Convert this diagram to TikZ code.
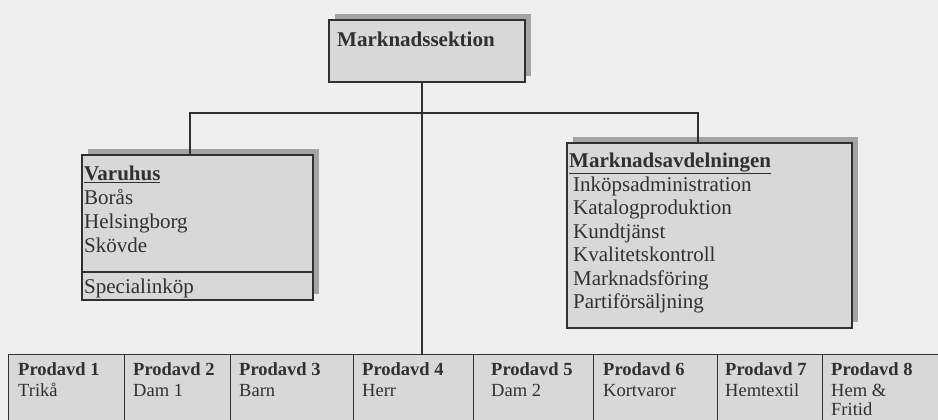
\documentclass[tikz,border=0pt]{standalone}
\usepackage{fontspec}
\setmainfont{Liberation Serif}
\usetikzlibrary{shadows}
\definecolor{bg}{HTML}{EFEFEF}
\definecolor{boxfill}{HTML}{D8D8D8}
\definecolor{shade}{HTML}{A4A4A4}
\definecolor{ink}{HTML}{303030}
\tikzset{
  box/.style={draw=ink, line width=1.5pt, fill=boxfill, rectangle, inner sep=0pt},
  shbox/.style={box, general shadow={fill=shade, shadow xshift=6pt, shadow yshift=6pt}},
  cell/.style={draw=ink, line width=1.2pt, fill=boxfill, rectangle, inner sep=0pt, minimum height=71pt, anchor=north west},
  big/.style={anchor=base west, inner sep=0pt, text=ink, font=\fontsize{21}{24}\selectfont},
  small/.style={anchor=base west, inner sep=0pt, text=ink, font=\fontsize{18.5}{21}\selectfont},
  conn/.style={draw=ink, line width=1.3pt}
}
\begin{document}
\begin{tikzpicture}[x=1pt,y=-1pt]
\clip (0,0) rectangle (938,420);
\fill[bg] (0,0) rectangle (938,420);

% boxes
\node[shbox, minimum width=196pt, minimum height=62pt] (top) at (427,51) {};
\node[shbox, minimum width=231pt, minimum height=145pt] (varuhus) at (197.5,227.5) {};
\node[shbox, minimum width=285pt, minimum height=185pt] (markn) at (709.5,235.5) {};
\coordinate (div) at (0,272);
\draw[conn] (varuhus.west |- div) -- (varuhus.east |- div);

% bottom row
\node[cell, minimum width=116pt] (p1) at (8,354) {};
\node[cell, minimum width=106pt] (p2) at (124,354) {};
\node[cell, minimum width=123pt] (p3) at (230,354) {};
\node[cell, minimum width=120pt] (p4) at (353,354) {};
\node[cell, minimum width=120pt] (p5) at (473,354) {};
\node[cell, minimum width=124pt] (p6) at (593,354) {};
\node[cell, minimum width=105pt] (p7) at (717,354) {};
\node[cell, minimum width=130pt] (p8) at (822,354) {};

% connectors
\coordinate (vx) at (422,0);
\coordinate (lx) at (190,113);
\coordinate (rx) at (698,113);
\draw[conn] (top.south -| vx) -- (p4.north -| vx);
\draw[conn] (varuhus.north -| lx) -- (lx) -- (rx) -- (markn.north -| rx);

% texts
\node[big] (t0) at (337,47) {\bfseries Marknadssektion};

\node[big] (v0) at (84,180) {\bfseries\underline{Varuhus}};
\node[big] (v1) at (84,204) {Borås};
\node[big] (v2) at (84,228) {Helsingborg};
\node[big] (v3) at (84,252) {Skövde};
\node[big] (v4) at (84,293) {Specialinköp};

\node[big] (m0) at (569,167) {\bfseries\underline{Marknadsavdelningen}};
\node[big] (m1) at (573,191) {Inköpsadministration};
\node[big] (m2) at (573,214.5) {Katalogproduktion};
\node[big] (m3) at (573,238) {Kundtjänst};
\node[big] (m4) at (573,261.5) {Kvalitetskontroll};
\node[big] (m5) at (573,285) {Marknadsföring};
\node[big] (m6) at (573,308.5) {Partiförsäljning};

\node[small] (a1) at (18,375) {\bfseries Prodavd 1};
\node[small] (b1) at (18,396) {Trikå};
\node[small] (a2) at (133,375) {\bfseries Prodavd 2};
\node[small] (b2) at (133,396) {Dam 1};
\node[small] (a3) at (239,375) {\bfseries Prodavd 3};
\node[small] (b3) at (239,396) {Barn};
\node[small] (a4) at (362,375) {\bfseries Prodavd 4};
\node[small] (b4) at (362,396) {Herr};
\node[small] (a5) at (491,375) {\bfseries Prodavd 5};
\node[small] (b5) at (491,396) {Dam 2};
\node[small] (a6) at (603,375) {\bfseries Prodavd 6};
\node[small] (b6) at (603,396) {Kortvaror};
\node[small] (a7) at (725,375) {\bfseries Prodavd 7};
\node[small] (b7) at (725,396) {Hemtextil};
\node[small] (a8) at (831,375) {\bfseries Prodavd 8};
\node[small] (b8) at (831,396) {Hem \&};
\node[small] (c8) at (831,415.5) {Fritid};
\end{tikzpicture}
\end{document}
